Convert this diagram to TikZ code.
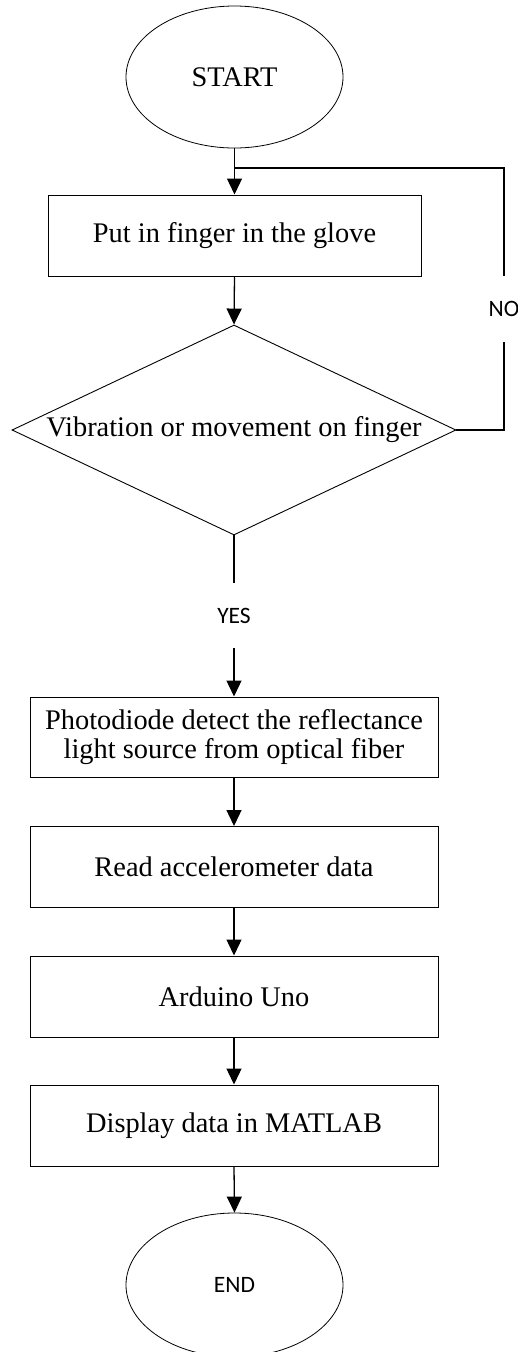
\documentclass[tikz,border=0pt]{standalone}
\usepackage{fontspec}
\setmainfont{Liberation Serif}
\newfontfamily\calib{Carlito}
\usetikzlibrary{shapes.geometric,arrows.meta}
\begin{document}
\begin{tikzpicture}[x=1pt,y=-1pt,
  every node/.style={inner sep=0pt,font=\fontsize{28.4}{29}\selectfont},
  term/.style={draw,ellipse,line width=0.8pt,minimum width=217pt,minimum height=142pt},
  procbox/.style={draw,rectangle,line width=1pt,minimum height=81pt,align=center},
  decbox/.style={draw,diamond,aspect=2.11,line width=0.9pt,minimum width=444pt,minimum height=210pt},
  lbl/.style={font=\calib\fontsize{23.5}{25}\selectfont},
  flow/.style={line width=1.3pt,-{Triangle[length=16pt,width=15pt]}},
  link/.style={line width=1.3pt}]
\useasboundingbox (0,0) rectangle (517,1352);
\node[term] (start) at (234.5,77) {START};
\node[procbox,minimum width=373pt] (b1) at (234.5,235.5) {Put in finger in the glove};
\node[decbox] (dec) at (234,430) {Vibration or movement on finger};
\node[lbl,minimum height=66pt] (no) at (504,309) {NO};
\node[lbl,minimum height=65pt] (yes) at (234,615.5) {YES};
\node[procbox,minimum width=408pt,minimum height=80pt] (b2) at (234,737) {Photodiode detect the reflectance\\light source from optical fiber};
\node[procbox,minimum width=408pt] (b3) at (234,867) {Read accelerometer data};
\node[procbox,minimum width=408pt] (b4) at (234,996.5) {Arduino Uno};
\node[procbox,minimum width=408pt] (b5) at (234,1125.5) {Display data in MATLAB};
\node[term,minimum height=144pt] (end) at (234.5,1285) {\calib\fontsize{23.5}{25}\selectfont END};
\coordinate (j) at (234.5,168);
\draw[flow] (start.south) -- (b1.north);
\draw[flow] (b1.south) -- (dec.north);
\draw[link] (dec.east) -| (no.south);
\draw[link] (no.north) |- (j);
\draw[link] (dec.south) -- (yes.north);
\draw[flow] (yes.south) -- (b2.north);
\draw[flow] (b2.south) -- (b3.north);
\draw[flow] (b3.south) -- (b4.north);
\draw[flow] (b4.south) -- (b5.north);
\draw[flow] (b5.south) -- (end.north);
\end{tikzpicture}
\end{document}
